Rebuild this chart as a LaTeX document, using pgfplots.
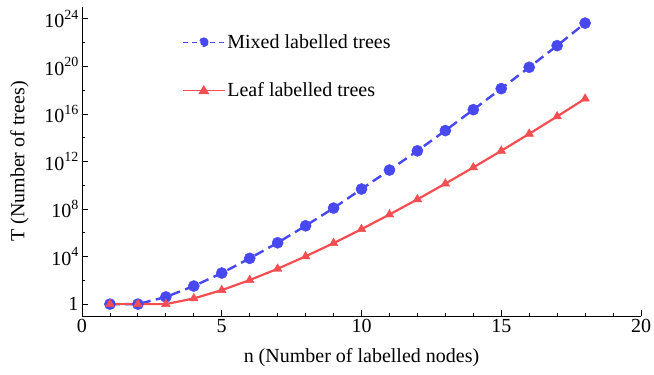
\documentclass[border=0pt]{standalone}
\usepackage{fontspec}
\setmainfont{Liberation Serif}
\usepackage{pgfplots}
\pgfplotsset{compat=1.18}
\definecolor{myblue}{RGB}{72,72,240}
\definecolor{myred}{RGB}{245,78,82}
\newcommand{\tsup}[1]{\raisebox{0.42em}{\fontsize{14}{14}\selectfont #1}}
\pgfplotstableread{
n T
1 1
2 1
3 4
4 33
5 410
6 7.1e3
7 1.45e5
8 3.9e6
9 1.2e8
10 4.8e9
11 1.9e11
12 7.9e12
13 4.0e14
14 2.3e16
15 1.35e18
16 8.5e19
17 5.6e21
18 4.4e23
}\mixed
\pgfplotstableread{
n T
1 1
2 1
3 1
4 3
5 15
6 105
7 945
8 10395
9 135135
10 2027025
11 34459425
12 654729075
13 13749310575
14 316234143225
15 7905853580625
16 213458046676875
17 6190283353629375
18 191898783962510625
}\leaf
\begin{document}
\begin{tikzpicture}
\begin{axis}[
  scale only axis, width=559pt, height=309pt,
  ymode=log, xmin=0, xmax=20, ymin=0.1, ymax=1e25,
  axis x line*=bottom, axis y line*=left,
  axis line style={line width=0.8pt, black, -},
  xtick={0,5,...,20}, minor xtick={1,...,19},
  ytick={1,1e4,1e8,1e12,1e16,1e20,1e24},
  yticklabels={1,10\tsup{4},10\tsup{8},10\tsup{12},10\tsup{16},10\tsup{20},10\tsup{24}},
  minor ytick={1e2,1e6,1e10,1e14,1e18,1e22},
  tick style={black, line width=0.8pt},
  major tick length=6pt, minor tick length=3.5pt,
  tick align=inside,
  font=\fontsize{20}{24}\selectfont,
  ticklabel style={font=\fontsize{20}{24}\selectfont},
  /pgf/number format/assume math mode=true,
  xlabel={n (Number of labelled nodes)},
  ylabel={T (Number of trees)},
  xlabel style={at={(axis description cs:0.5,-0.133)}, anchor=center},
  ylabel style={at={(axis description cs:-0.112,0.5)}, anchor=center},
  legend style={draw=none, fill=none, at={(axis description cs:0.179,0.918)}, anchor=north west,
    row sep=29pt, font=\fontsize{20}{24}\selectfont, inner sep=0pt, nodes={inner sep=2pt}},
  legend cell align=left,
]
\addplot[myblue, line width=2.4pt, dash pattern=on 10pt off 5.5pt, mark=*, mark size=5.6pt,
  mark options={solid, line width=0.4pt},
  legend image code/.code={\draw[myblue, line width=1.1pt, dash pattern=on 5pt off 4pt] (0pt,0pt) -- (42pt,0pt);
    \fill[myblue] (21pt,0pt) circle (3.6pt);}]
  table[x=n,y=T]{\mixed};
\addlegendentry{Mixed labelled trees}
\addplot[myred, line width=2.2pt, mark=triangle*, mark size=5pt, mark options={solid, line width=0.4pt},
  legend image code/.code={\draw[myred, line width=1.1pt] (0pt,0pt) -- (42pt,0pt);
    \fill[myred] (21pt,3.5pt) -- (17.5pt,-2.2pt) -- (24.5pt,-2.2pt) -- cycle;}]
  table[x=n,y=T]{\leaf};
\addlegendentry{Leaf labelled trees}
\coordinate (bl) at (rel axis cs:0,0);
\coordinate (tr) at (rel axis cs:1,1);
\end{axis}
\pgfresetboundingbox
\path ([xshift=-82pt,yshift=-59pt]bl) rectangle ([xshift=13pt,yshift=7pt]tr);
\end{tikzpicture}
\end{document}
